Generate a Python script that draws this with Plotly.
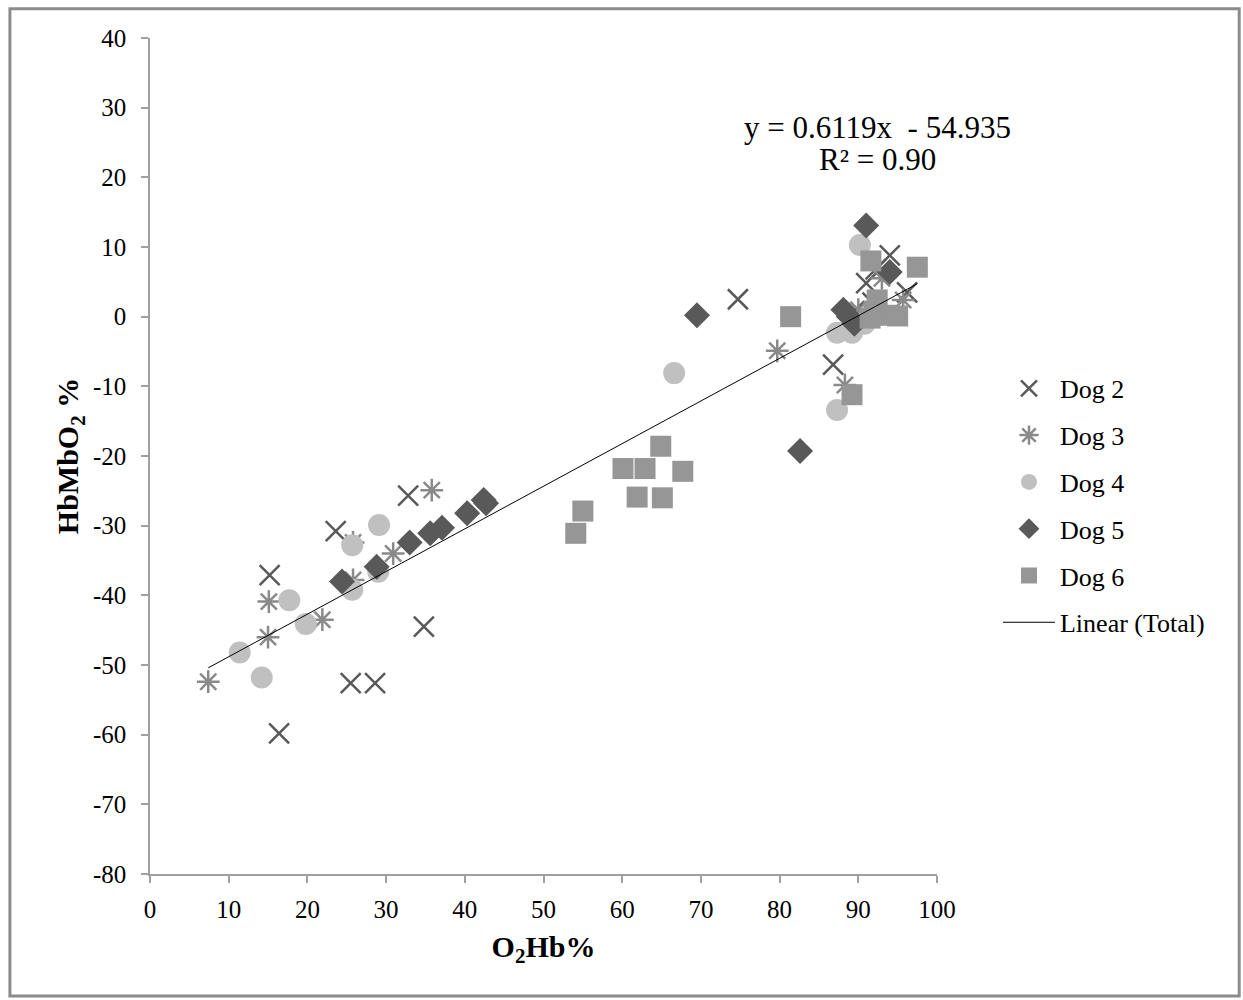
import plotly.graph_objects as go

# ---- data ----
dog2_x = [74.7, 86.8, 32.8, 23.6, 15.2, 16.4, 34.8, 25.5, 28.6, 94.0, 96.2, 91.0, 92.2, 89.5, 91.8]
dog2_y = [2.5, -6.9, -25.7, -30.8, -37.1, -59.8, -44.5, -52.6, -52.6, 8.8, 3.5, 4.8, 6.8, 0.8, 2.0]

dog3_x = [79.7, 88.3, 25.8, 15.1, 15.0, 7.4, 21.9, 30.9, 35.8, 25.8, 95.7, 93.0, 90.0]
dog3_y = [-4.9, -9.8, -32.4, -40.9, -46.0, -52.4, -43.5, -34.0, -24.9, -37.8, 2.4, 5.5, 1.0]

dog4_x = [11.4, 14.2, 17.7, 19.8, 25.7, 25.7, 29.1, 29.0, 66.6, 87.3, 87.3, 89.2, 90.2, 90.8]
dog4_y = [-48.2, -51.8, -40.7, -44.1, -32.8, -39.2, -29.9, -36.6, -8.1, -13.4, -2.3, -2.3, 10.3, -1.0]

dog5_x = [24.4, 28.8, 33.0, 35.6, 37.1, 40.3, 42.4, 42.7, 69.5, 82.6, 91.0, 94.0, 88.1, 88.8, 89.5]
dog5_y = [-38.0, -35.9, -32.4, -31.1, -30.3, -28.2, -26.3, -26.8, 0.2, -19.3, 13.1, 6.4, 1.0, 0.0, -1.0]

dog6_x = [64.9, 60.1, 62.9, 67.7, 61.9, 65.1, 55.0, 54.1, 81.4, 89.2, 91.6, 97.5, 92.4, 91.5, 93.8, 95.0, 92.0]
dog6_y = [-18.6, -21.8, -21.8, -22.2, -25.9, -26.0, -27.9, -31.1, 0.0, -11.2, 8.0, 7.1, 2.4, -0.2, 0.2, 0.1, 0.8]

slope = 0.6119
intercept = -54.935
r2_text = "0.90"

x_ticks = list(range(0, 101, 10))
x_ticklabels = [str(v) for v in x_ticks]
y_ticks = list(range(-80, 41, 10))
y_ticklabels = [str(v) for v in y_ticks]  # plain hyphen minus, as in the reference

FONT = "Liberation Serif, Times New Roman, serif"

all_x = dog2_x + dog3_x + dog4_x + dog5_x + dog6_x
lx = [min(all_x), max(all_x)]
ly = [slope * v + intercept for v in lx]

fig = go.Figure()

series = [
    ("Dog 2", dog2_x, dog2_y, dict(symbol="x-thin-open", size=20, color="#595959",
                                   line=dict(color="#595959", width=2.5))),
    ("Dog 3", dog3_x, dog3_y, dict(symbol="asterisk-open", size=19, color="#8a8a8a",
                                   line=dict(color="#8a8a8a", width=2.5))),
    ("Dog 4", dog4_x, dog4_y, dict(symbol="circle", size=22, color="#c0c0c0",
                                   line=dict(width=0))),
    ("Dog 5", dog5_x, dog5_y, dict(symbol="diamond", size=20, color="#595959",
                                   line=dict(width=0))),
    ("Dog 6", dog6_x, dog6_y, dict(symbol="square", size=21, color="#969696",
                                   line=dict(width=0))),
]
for name, xs, ys, mk in series:
    fig.add_trace(go.Scatter(x=xs, y=ys, mode="markers", name=name, marker=mk,
                             legendgroup=name))

fig.add_trace(go.Scatter(x=lx, y=ly, mode="lines", name="Linear (Total)",
                         line=dict(color="black", width=1), legendgroup="lin"))

fig.add_annotation(x=92.5, y=27.2, xref="x", yref="y", showarrow=False,
                   text="y = 0.6119x  - 54.935", font=dict(family=FONT, size=31, color="black"))
fig.add_annotation(x=92.5, y=22.5, xref="x", yref="y", showarrow=False,
                   text="R² = " + r2_text, font=dict(family=FONT, size=31, color="black"))

# outer border
fig.add_shape(type="rect", xref="paper", yref="paper",
              x0=-0.178, x1=1.384, y0=-0.146, y1=1.035,
              line=dict(color="#8c8c8c", width=3), fillcolor="rgba(0,0,0,0)")

axis_common = dict(showgrid=False, zeroline=False, showline=True, linecolor="#a0a0a0",
                   linewidth=1.5, ticks="outside", ticklen=7, tickcolor="#a0a0a0",
                   tickwidth=1.5, tickfont=dict(family=FONT, size=25, color="black"))

fig.update_xaxes(range=[0, 100], tickvals=x_ticks, ticktext=x_ticklabels, ticklabelstandoff=5,
                 title=dict(text="<b>O<sub>2</sub>Hb%</b>", font=dict(family=FONT, size=30, color="black"),
                            standoff=14),
                 **axis_common)
fig.update_yaxes(range=[-80, 40], tickvals=y_ticks, ticktext=y_ticklabels, ticklabelstandoff=10,
                 title=dict(text="<b>HbMbO<sub>2</sub> %</b>", font=dict(family=FONT, size=30, color="black"),
                            standoff=5),
                 **axis_common)

fig.update_layout(
    width=1243, height=1000,
    margin=dict(l=150, r=306, t=38, b=126),
    paper_bgcolor="white", plot_bgcolor="white",
    font=dict(family=FONT, color="black"),
    legend=dict(x=1.0775, y=0.609, xanchor="left", yanchor="top",
                font=dict(family=FONT, size=26, color="black"),
                itemwidth=52, tracegroupgap=10, bgcolor="rgba(0,0,0,0)"),
)

fig.write_html("out.html")
